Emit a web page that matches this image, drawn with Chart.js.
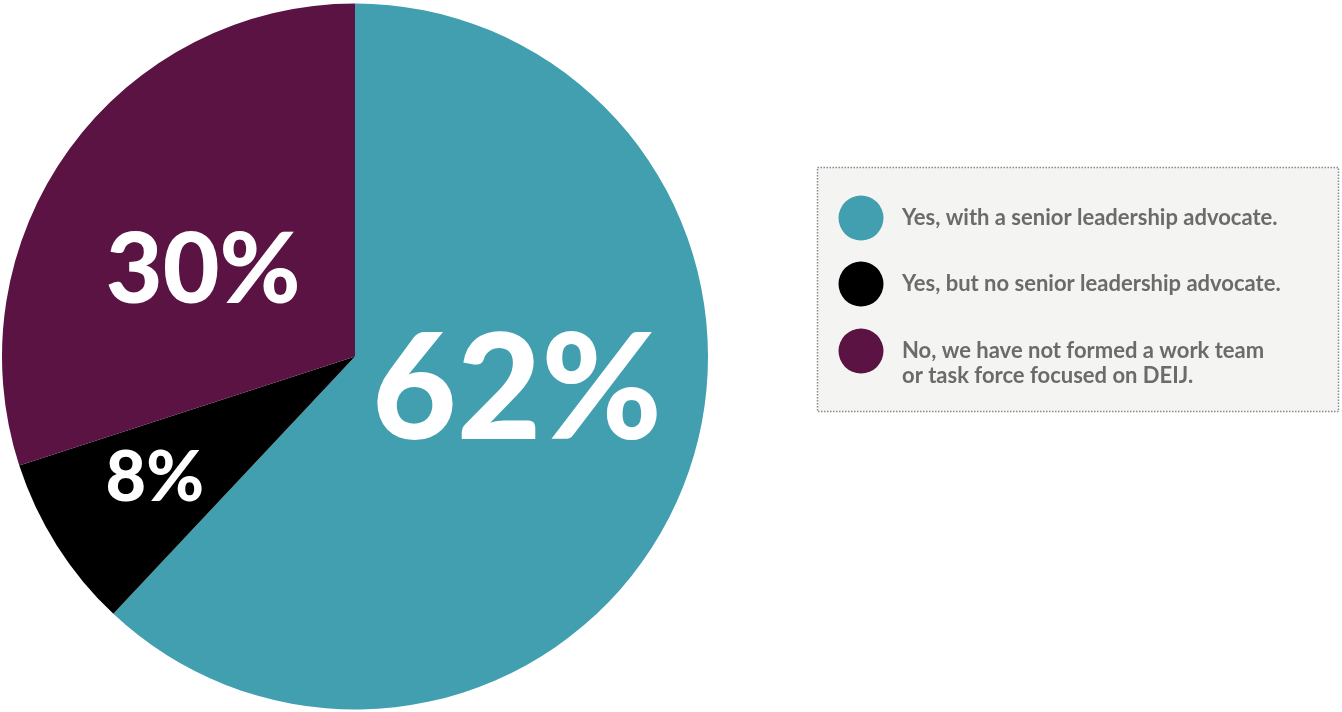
<!DOCTYPE html>
<html>
<head>
<meta charset="utf-8">
<script src="https://cdn.jsdelivr.net/npm/chart.js@4/dist/chart.umd.min.js"></script>
<style>
  html, body { margin: 0; padding: 0; background: #ffffff; }
  #wrap { position: relative; width: 1342px; height: 712px; }
</style>
</head>
<body>
<div id="wrap"><canvas id="chart" width="1342" height="712"></canvas></div>
<script>
// Survey answers: has the organisation formed a DEIJ work team / task force?
const categories = [
  ['Yes, with a senior leadership advocate.'],
  ['Yes, but no senior leadership advocate.'],
  ['No, we have not formed a work team', 'or task force focused on DEIJ.']
];
const shares = [62, 8, 30];
const sliceColors = ['#419fb0', '#000000', '#5a1342'];

// Where each percentage sits, as a fraction of the radius from the centre (x, y)
const labelAnchors = [[0.459, 0.10], [-0.567, 0.344], [-0.43, -0.24]];
const labelSizes = [146, 70, 98];

const sliceLabels = {
  id: 'sliceLabels',
  afterDatasetsDraw(chart) {
    const ctx = chart.ctx;
    const meta = chart.getDatasetMeta(0);
    ctx.save();
    ctx.fillStyle = '#ffffff';
    ctx.textAlign = 'center';
    ctx.textBaseline = 'middle';
    meta.data.forEach((arc, i) => {
      const r = arc.outerRadius;
      ctx.font = '900 ' + labelSizes[i] + 'px Lato';
      ctx.fillText(shares[i] + '%', arc.x + labelAnchors[i][0] * r, arc.y + labelAnchors[i][1] * r);
    });
    ctx.restore();
  }
};

const boxLegend = {
  id: 'boxLegend',
  afterDraw(chart) {
    const ctx = chart.ctx;
    const box = { x: 817.5, y: 167.5, w: 521, h: 244 };
    ctx.save();
    ctx.fillStyle = '#f4f4f2';
    ctx.fillRect(box.x, box.y, box.w, box.h);
    ctx.strokeStyle = '#8a8a8a';
    ctx.lineWidth = 1.5;
    ctx.setLineDash([1.5, 1.5]);
    ctx.strokeRect(box.x, box.y, box.w, box.h);
    ctx.setLineDash([]);
    const rowY = [218, 284, 351];
    ctx.font = 'bold 22px Lato';
    ctx.textBaseline = 'middle';
    ctx.textAlign = 'left';
    categories.forEach((lines, i) => {
      ctx.fillStyle = sliceColors[i];
      ctx.beginPath();
      ctx.arc(861, rowY[i], 22.5, 0, Math.PI * 2);
      ctx.fill();
      ctx.fillStyle = '#6b6b6b';
      lines.forEach((t, j) => ctx.fillText(t, 902, rowY[i] + j * 25));
    });
    ctx.restore();
  }
};

new Chart(document.getElementById('chart'), {
  type: 'pie',
  data: {
    labels: categories.map(l => l.join(' ')),
    datasets: [{
      data: shares,
      backgroundColor: sliceColors,
      borderWidth: 0
    }]
  },
  options: {
    responsive: false,
    animation: false,
    layout: { padding: { left: 2, top: 3, right: 634, bottom: 2 } },
    plugins: { legend: { display: false }, tooltip: { enabled: false } }
  },
  plugins: [sliceLabels, boxLegend]
});
</script>
</body>
</html>
